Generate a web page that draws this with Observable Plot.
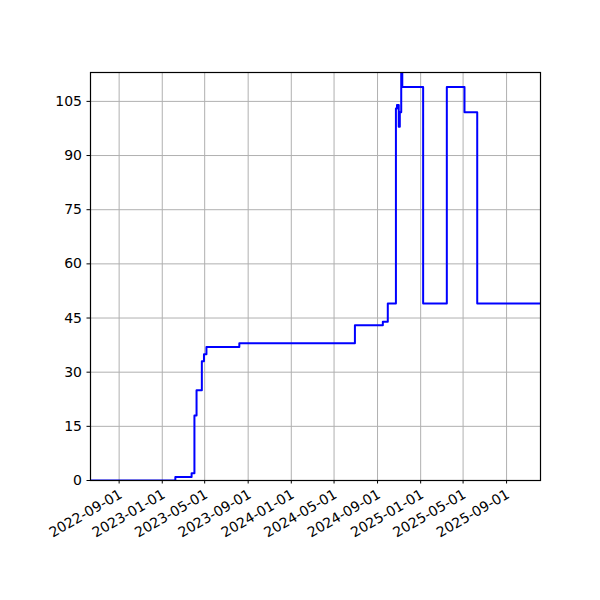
<!DOCTYPE html>
<html>
<head>
<meta charset="utf-8">
<script src="https://cdn.jsdelivr.net/npm/d3@7"></script>
<script src="https://cdn.jsdelivr.net/npm/@observablehq/plot@0.6"></script>
<style>
  html, body { margin: 0; padding: 0; background: #fff; }
  #chart { width: 600px; height: 600px; }
</style>
</head>
<body>
<div id="chart"></div>
<script>
const dates = ["2022-06-12","2023-02-07","2023-03-25","2023-04-02","2023-04-08","2023-04-23","2023-04-29","2023-05-06","2023-08-07","2024-06-29","2024-09-16","2024-09-30","2024-10-23","2024-10-26","2024-10-31","2024-11-03","2024-11-07","2024-11-10","2025-01-08","2025-03-16","2025-05-05","2025-06-10","2025-12-06"];
const values = [0,1,2,18,25,33,35,37,38,43,44,49,103,104,98,102,118,109,49,109,102,49,49];
const xTickLabels = ["2022-09-01","2023-01-01","2023-05-01","2023-09-01","2024-01-01","2024-05-01","2024-09-01","2025-01-01","2025-05-01","2025-09-01"];
const yTicks = [0,15,30,45,60,75,90,105];
const xDomain = ["2022-06-12","2025-12-06"];
const yDomain = [0,113];

const parse = d3.utcParse("%Y-%m-%d");
const data = dates.map((d, i) => ({date: parse(d), value: values[i]}));
const xTicks = xTickLabels.map(parse);

const chart = Plot.plot({
  width: 600,
  height: 600,
  marginLeft: 90,
  marginRight: 60,
  marginTop: 72,
  marginBottom: 120,
  style: {fontFamily: "DejaVu Sans", fontSize: "14px", color: "black", background: "white"},
  x: {type: "utc", domain: xDomain.map(parse)},
  y: {domain: yDomain},
  marks: [
    Plot.gridX(xTicks, {stroke: "#b0b0b0", strokeOpacity: 1, strokeWidth: 1}),
    Plot.gridY(yTicks, {stroke: "#b0b0b0", strokeOpacity: 1, strokeWidth: 1}),
    Plot.line(data, {x: "date", y: "value", curve: "step-after", stroke: "#0000ff", strokeWidth: 2, clip: true}),
    Plot.frame({stroke: "black", strokeWidth: 1.2}),
    Plot.axisX(xTicks, {tickFormat: null, text: null, tickSize: 3.5, label: null, stroke: "black"}),
    Plot.text(xTicks, {x: d => d, frameAnchor: "bottom", text: d3.utcFormat("%Y-%m-%d"), rotate: -30, textAnchor: "end", lineAnchor: "top", dy: 8, dx: -1, fill: "black", fontSize: 14}),
    Plot.axisY(yTicks, {tickSize: 3.5, tickPadding: 5, label: null, stroke: "black", fill: "black", fontSize: 14})
  ]
});
document.getElementById("chart").appendChild(chart);
</script>
</body>
</html>
